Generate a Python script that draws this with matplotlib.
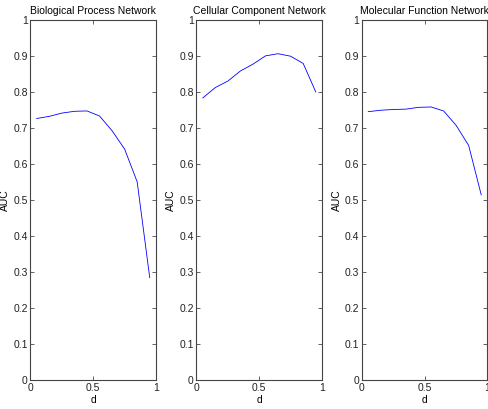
import matplotlib
matplotlib.use("Agg")
import matplotlib.pyplot as plt

# x positions of the samples
d = [0.05, 0.15, 0.25, 0.35, 0.45, 0.55, 0.65, 0.75, 0.85, 0.95]

# AUC
bp_auc = [0.725, 0.731, 0.740, 0.745, 0.746, 0.732, 0.691, 0.640, 0.549, 0.283]
cc_auc = [0.782, 0.811, 0.829, 0.857, 0.876, 0.899, 0.905, 0.898, 0.878, 0.799]
mf_auc = [0.744, 0.748, 0.750, 0.751, 0.756, 0.757, 0.746, 0.706, 0.650, 0.513]

titles = ["Biological Process Network", "Cellular Component Network", "Molecular Function Network"]
series = [bp_auc, cc_auc, mf_auc]

yticks = [0, 0.1, 0.2, 0.3, 0.4, 0.5, 0.6, 0.7, 0.8, 0.9, 1]
ytick_labels = ["0", "0.1", "0.2", "0.3", "0.4", "0.5", "0.6", "0.7", "0.8", "0.9", "1"]
xticks = [0, 0.5, 1]
xtick_labels = ["0", "0.5", "1"]

plt.rcParams['font.family'] = ['Liberation Sans', 'DejaVu Sans']
fs = 7.5

W, H = 489, 410
fig = plt.figure(figsize=(W / 100, H / 100), dpi=100)

lefts = [30.5, 196.5, 362.0]
ax_w = 125.5
top, bottom = 20.5, 380.5

for left, title, vals in zip(lefts, titles, series):
    ax = fig.add_axes([left / W, 1 - bottom / H, ax_w / W, (bottom - top) / H])
    ax.plot(d, vals, color=(0, 0, 1), linewidth=0.6)
    ax.set_xlim(0, 1)
    ax.set_ylim(0, 1)
    ax.set_xticks(xticks)
    ax.set_xticklabels(xtick_labels, fontsize=fs)
    ax.set_yticks(yticks)
    ax.set_yticklabels(ytick_labels, fontsize=fs)
    ax.tick_params(direction='in', top=True, right=True, length=3, width=0.5,
                   pad=2, colors='#222222')
    for sp in ax.spines.values():
        sp.set_linewidth(0.8)
        sp.set_color('#444444')
    ax.set_title(title, fontsize=fs, pad=5)
    ax.set_xlabel("d", fontsize=fs, labelpad=1)
    ax.set_ylabel("AUC", fontsize=fs, labelpad=2)

fig.savefig("out.png", dpi=100)
